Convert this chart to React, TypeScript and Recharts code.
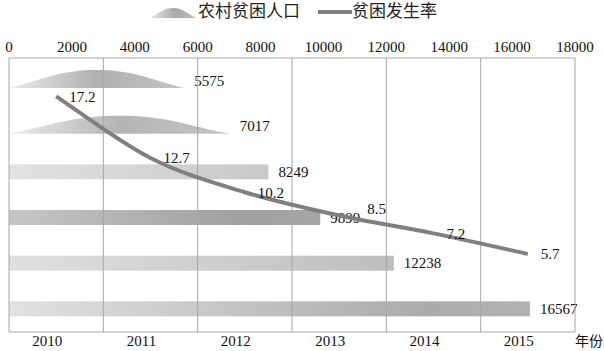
import React from 'react';
import { BarChart, Bar, LineChart, Line, XAxis, YAxis, CartesianGrid, LabelList, Legend } from 'recharts';

// ---- data ----
const years = ['2010', '2011', '2012', '2013', '2014', '2015'];
const ruralPoor = [16567, 12238, 9899, 8249, 7017, 5575];
const povertyRate = [17.2, 12.7, 10.2, 8.5, 7.2, 5.7];
const populationTicks = [0, 2000, 4000, 6000, 8000, 10000, 12000, 14000, 16000, 18000];
const populationMax = 18000;
const rateMax = 20;
const seriesNames = ['农村贫困人口', '贫困发生率'];
const axisUnit = '年份';

const data = years.map((year, i) => ({ year, poor: ruralPoor[i], rate: povertyRate[i] }));

// ---- styles ----
const FONT = '"Liberation Serif", "Noto Sans CJK SC", serif';
const W = 604;
const H = 351;
const GRID = '#a6a6a6';
const LINE = '#808080';

const BAR_STYLES = [
  { grad: 'g2010', hump: false },
  { grad: 'g2011', hump: false },
  { grad: 'g2012', hump: false },
  { grad: 'g2013', hump: false },
  { grad: 'g2014', hump: true },
  { grad: 'g2015', hump: true },
];
const GRADS: Record<string, [string, string][]> = {
  g2010: [['0%', '#e2e2e2'], ['80%', '#ababab'], ['100%', '#b2b2b2']],
  g2011: [['0%', '#e0e0e0'], ['100%', '#bebebe']],
  g2012: [['0%', '#c6c6c6'], ['75%', '#a0a0a0'], ['100%', '#a6a6a6']],
  g2013: [['0%', '#e2e2e2'], ['100%', '#c9c9c9']],
  g2014: [['0%', '#ececec'], ['50%', '#b4b4b4'], ['100%', '#c6c6c6']],
  g2015: [['0%', '#ececec'], ['50%', '#b0b0b0'], ['100%', '#c4c4c4']],
};
const RATE_LABEL_NUDGE: [number, number][] = [[0, 0], [0, 0], [0, 0], [15, -7], [0, 0], [0, 0]];

// Excel-like smoothing (Catmull-Rom style bezier)
const smoothCurve = (context: any) => {
  let pts: [number, number][] = [];
  return {
    areaStart() {},
    areaEnd() {},
    lineStart() {
      pts = [];
    },
    point(x: number, y: number) {
      pts.push([+x, +y]);
    },
    lineEnd() {
      if (!pts.length) return;
      context.moveTo(pts[0][0], pts[0][1]);
      for (let i = 0; i < pts.length - 1; i++) {
        const p0 = pts[i - 1] ?? pts[i];
        const p1 = pts[i];
        const p2 = pts[i + 1];
        const p3 = pts[i + 2] ?? p2;
        context.bezierCurveTo(
          p1[0] + (p2[0] - p0[0]) / 6,
          p1[1] + (p2[1] - p0[1]) / 6,
          p2[0] - (p3[0] - p1[0]) / 6,
          p2[1] - (p3[1] - p1[1]) / 6,
          p2[0],
          p2[1]
        );
      }
    },
  };
};

const humpPath = (x0: number, yb: number, w: number, h: number) =>
  `M${x0},${yb} C${x0 + 0.22 * w},${yb - 0.55 * h} ${x0 + 0.3 * w},${yb - h} ${x0 + 0.5 * w},${yb - h} ` +
  `C${x0 + 0.7 * w},${yb - h} ${x0 + 0.78 * w},${yb - 0.55 * h} ${x0 + w},${yb} Z`;

const BarShape = (props: any) => {
  const { x, y, width, height, index } = props;
  const st = BAR_STYLES[index] ?? BAR_STYLES[0];
  if (!width || width <= 0) return null;
  if (st.hump) {
    return <path d={humpPath(x, y + height, width, height * 1.2)} fill={`url(#${st.grad})`} />;
  }
  return <rect x={x} y={y} width={width} height={height} fill={`url(#${st.grad})`} />;
};

const RateLabel = (props: any) => {
  const { x, y, value, index } = props;
  const n = RATE_LABEL_NUDGE[index] ?? [0, 0];
  return (
    <text x={x + 13 + n[0]} y={y + n[1]} dy="0.35em" fontSize={15} fontFamily={FONT} fill="#111">
      {value}
    </text>
  );
};

const bandBoundaries = ({ offset }: any) =>
  Array.from({ length: years.length + 1 }, (_, i) => offset.left + (i * offset.width) / years.length);

const LegendContent = () => (
  <div
    style={{
      display: 'flex',
      alignItems: 'center',
      paddingLeft: 150,
      height: 24,
      fontFamily: FONT,
      fontSize: 17,
      color: '#222',
      lineHeight: '24px',
    }}
  >
    <svg width={46} height={16} style={{ display: 'block' }}>
      <defs>
        <linearGradient id="legHump" x1="0" y1="0" x2="1" y2="0">
          <stop offset="0%" stopColor="#e8e8e8" />
          <stop offset="55%" stopColor="#a8a8a8" />
          <stop offset="100%" stopColor="#bdbdbd" />
        </linearGradient>
      </defs>
      <path d={humpPath(0, 14, 46, 10)} fill="url(#legHump)" />
    </svg>
    <span style={{ marginLeft: 2 }}>{seriesNames[0]}</span>
    <svg width={34} height={16} style={{ display: 'block', marginLeft: 18 }}>
      <line x1={0} y1={8} x2={34} y2={8} stroke={LINE} strokeWidth={4} />
    </svg>
    <span>{seriesNames[1]}</span>
  </div>
);

export default function App() {
  return (
    <div style={{ position: 'absolute', left: 0, top: 0, width: W, height: H, background: '#fff' }}>
      <div style={{ position: 'absolute', left: 0, top: 0 }}>
        <BarChart
          width={W}
          height={H}
          data={data}
          layout="vertical"
          margin={{ top: 38, right: 29, left: 9, bottom: 19 }}
        >
          <defs>
            {Object.entries(GRADS).map(([id, stops]) => (
              <linearGradient key={id} id={id} x1="0" y1="0" x2="1" y2="0">
                {stops.map(([o, c]) => (
                  <stop key={o} offset={o} stopColor={c} />
                ))}
              </linearGradient>
            ))}
          </defs>
          <XAxis
            type="number"
            orientation="top"
            domain={[0, populationMax]}
            ticks={populationTicks}
            height={20}
            axisLine={{ stroke: GRID, strokeWidth: 1 }}
            tickLine={false}
            tickSize={4}
            tickMargin={2}
            interval={0}
            tick={{ fontSize: 15, fill: '#111', fontFamily: FONT }}
          />
          <YAxis type="category" dataKey="year" reversed hide />
          <Bar dataKey="poor" barSize={15} shape={BarShape} isAnimationActive={false}>
            <LabelList
              dataKey="poor"
              position="right"
              offset={10}
              style={{ fontSize: 15, fill: '#111', fontFamily: FONT }}
            />
          </Bar>
        </BarChart>
      </div>
      <div style={{ position: 'absolute', left: 0, top: 0 }}>
        <LineChart width={W} height={H} data={data} margin={{ top: 34, right: 29, left: 9, bottom: 0 }}>
          <Legend verticalAlign="top" content={LegendContent} wrapperStyle={{ top: 0, left: 0, width: W, height: 24 }} />
          <XAxis
            dataKey="year"
            scale="band"
            height={19}
            axisLine={{ stroke: GRID, strokeWidth: 1 }}
            tickLine={false}
            tickSize={0}
            tickMargin={3}
            interval={0}
            tick={{ fontSize: 15, fill: '#111', fontFamily: FONT, dx: -9 }}
            label={{ value: axisUnit, position: 'right', offset: 0, fontSize: 14, fill: '#111', fontFamily: FONT }}
          />
          <YAxis domain={[0, rateMax]} hide />
          <CartesianGrid
            horizontal={false}
            stroke={GRID}
            strokeWidth={1}
            verticalCoordinatesGenerator={bandBoundaries}
          />
          <Line
            dataKey="rate"
            type={smoothCurve as any}
            stroke={LINE}
            strokeWidth={4}
            dot={false}
            isAnimationActive={false}
          >
            <LabelList dataKey="rate" content={RateLabel} />
          </Line>
        </LineChart>
      </div>
    </div>
  );
}
